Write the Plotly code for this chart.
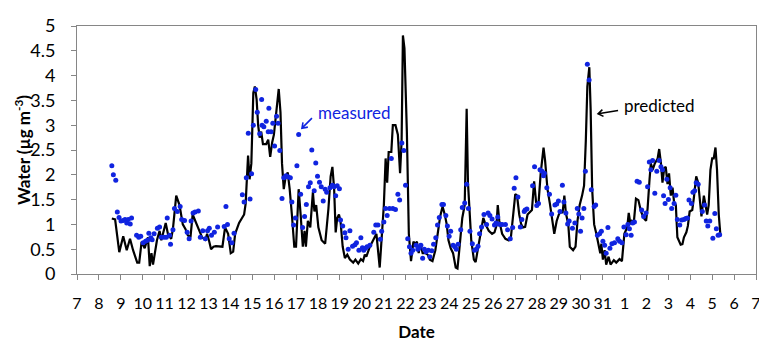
import plotly.graph_objects as go

# x positions are days counted from the first tick ("7"); tick labels below
tick_labels = [str(d) for d in range(7, 32)] + [str(d) for d in range(1, 8)]

pred_day = [1.59,1.74,1.93,2.11,2.27,2.42,2.56,2.75,2.84,2.95,3.09,3.24,3.32,3.40,3.47,3.65,3.77,3.85,4.05,4.15,
            4.30,4.38,4.53,4.68,4.83,4.95,5.06,5.18,5.28,5.44,5.59,5.71,5.86,5.94,6.04,6.12,6.23,6.34,6.64,6.76,
            6.90,7.02,7.13,7.22,7.40,7.63,7.70,7.81,7.88,7.96,8.05,8.12,8.20,8.27,8.34,8.41,8.49,8.64,8.73,8.82,
            8.91,8.99,9.06,9.12,9.21,9.29,9.36,9.44,9.52,9.62,9.71,9.81,9.92,10.00,10.12,10.21,10.31,10.39,10.45,10.54,
            10.65,10.77,10.84,10.92,11.02,11.17,11.33,11.48,11.58,11.66,11.74,11.81,11.88,11.96,12.03,12.13,12.23,12.34,12.46,12.61,
            12.71,12.84,12.96,13.06,13.14,13.21,13.37,13.52,13.67,13.82,13.94,14.01,14.09,14.16,14.23,14.35,14.42,14.54,14.65,14.75,
            14.82,14.88,14.95,15.06,15.15,15.25,15.36,15.45,15.52,15.60,15.68,15.78,15.90,16.01,16.11,16.23,16.36,16.46,16.58,16.69,
            16.79,16.88,16.96,17.06,17.17,17.29,17.37,17.44,17.52,17.59,17.70,17.79,17.85,17.92,18.00,18.12,18.20,18.27,18.38,18.47,
            18.55,18.65,18.80,18.95,19.06,19.15,19.21,19.28,19.41,19.56,19.71,19.81,19.90,20.01,20.09,20.19,20.28,20.36,20.46,20.57,
            20.77,20.87,20.96,21.07,21.17,21.30,21.37,21.48,21.59,21.72,21.79,21.90,22.00,22.09,22.17,22.25,22.32,22.43,22.50,22.65,
            22.76,22.85,22.95,23.06,23.15,23.23,23.30,23.39,23.45,23.52,23.61,23.71,23.82,23.89,23.94,24.01,24.09,24.16,24.27,24.36,
            24.51,24.62,24.77,24.88,24.99,25.12,25.19,25.27,25.34,25.42,25.52,25.63,25.75,25.87,25.98,26.05,26.14,26.20,26.28,26.38,
            26.51,26.58,26.66,26.73,26.81,26.88,26.96,27.03,27.11,27.19,27.26,27.34,27.41,27.49,27.56,27.64,27.71,27.82,27.89,27.97,
            28.09,28.16,28.27,28.36,28.44,28.51,28.62,28.70,28.77,28.84,28.92,29.00,29.07,29.15,29.22,29.30,29.37]

pred_val = [1.12,1.10,0.44,0.76,0.48,0.71,0.48,0.23,0.23,0.65,0.52,0.74,0.16,0.42,0.19,0.68,0.87,0.68,1.03,0.81,
            0.71,0.91,1.58,1.39,1.00,0.91,0.78,0.74,1.20,1.03,0.87,0.74,0.69,0.81,0.65,0.50,0.55,0.56,0.55,0.94,
            0.81,0.42,0.45,0.81,1.03,1.20,1.42,2.39,1.91,2.23,3.65,3.78,3.52,3.00,2.75,2.87,2.62,2.62,2.71,2.36,
            2.65,2.81,3.10,3.39,3.73,3.26,2.23,1.71,1.94,2.05,1.71,1.20,0.55,0.55,1.71,1.20,0.55,0.87,0.55,1.07,
            0.94,1.65,1.26,1.39,0.94,0.68,0.61,1.32,1.97,2.16,1.71,0.84,1.13,1.20,1.07,0.55,0.32,0.39,0.29,0.23,
            0.29,0.21,0.30,0.26,0.39,0.35,0.55,0.68,0.81,0.13,0.81,1.39,2.33,1.84,2.46,2.46,3.00,3.00,2.81,2.03,
            2.68,4.81,4.55,2.87,0.81,0.26,0.65,0.61,0.65,0.42,0.61,0.42,0.42,0.39,0.29,0.26,0.48,0.81,1.16,1.36,
            1.20,1.00,0.68,0.52,0.42,0.13,0.11,0.42,0.81,1.13,1.39,3.33,1.84,1.20,0.68,0.29,0.24,0.42,0.68,0.87,
            1.13,1.00,0.87,0.81,0.84,0.97,1.39,1.07,0.81,0.71,0.68,0.74,1.13,1.61,1.58,1.20,1.00,0.94,0.95,1.20,
            1.29,1.87,1.45,1.42,2.03,2.55,2.29,1.71,1.42,1.07,0.81,1.07,1.20,1.26,1.23,1.58,1.23,1.00,0.55,0.48,
            0.55,1.07,1.39,1.58,1.78,2.68,3.78,4.17,3.33,1.71,1.00,0.81,0.61,0.42,0.61,0.29,0.48,0.19,0.35,0.19,
            0.28,0.23,0.30,0.26,0.81,0.94,1.23,1.00,1.07,1.03,1.52,1.49,1.26,1.13,1.07,1.32,1.91,2.23,2.10,2.23,
            2.33,2.52,2.23,1.84,2.13,2.16,1.81,2.03,1.58,1.74,1.45,1.39,0.74,0.65,0.59,0.60,0.74,0.84,0.97,1.26,
            1.29,1.52,1.97,1.84,1.45,1.16,1.58,1.39,1.20,1.39,2.10,2.33,2.33,2.55,2.10,1.20,0.81]

meas_day = [1.59,1.66,1.77,1.84,1.92,2.01,2.11,2.19,2.27,2.34,2.43,2.49,2.72,2.82,2.91,3.02,3.13,3.22,3.28,3.37,
            3.43,3.52,3.67,3.77,3.85,3.97,4.08,4.12,4.23,4.27,4.38,4.45,4.58,4.71,4.78,4.91,5.03,5.12,5.21,5.30,
            5.39,5.54,5.63,5.74,5.86,5.96,6.04,6.14,6.27,6.42,6.72,6.80,6.87,6.95,7.07,7.17,7.55,7.63,7.73,7.82,
            7.90,7.97,8.05,8.16,8.23,8.34,8.43,8.45,8.53,8.64,8.73,8.76,8.86,8.94,9.02,9.11,9.18,9.26,9.36,9.44,
            9.54,9.63,9.74,9.81,9.89,9.97,10.04,10.12,10.21,10.30,10.39,10.47,10.57,10.65,10.72,10.83,10.90,10.98,11.07,11.15,
            11.24,11.33,11.40,11.55,11.66,11.74,11.81,11.88,11.98,12.03,12.13,12.23,12.28,12.38,12.46,12.58,12.69,12.76,12.87,12.96,
            13.03,13.09,13.17,13.24,13.37,13.55,13.64,13.74,13.85,13.91,14.01,14.09,14.16,14.27,14.35,14.42,14.54,14.65,14.73,14.83,
            14.92,15.00,15.10,15.18,15.25,15.33,15.48,15.56,15.63,15.70,15.78,15.86,15.93,16.04,16.11,16.20,16.28,16.38,16.46,16.54,
            16.66,16.73,16.84,16.91,16.99,17.06,17.17,17.25,17.32,17.40,17.52,17.59,17.70,17.79,17.87,17.94,18.05,18.15,18.23,18.31,
            18.38,18.47,18.58,18.70,18.77,18.85,18.95,19.06,19.13,19.21,19.26,19.33,19.41,19.56,19.66,19.78,19.89,19.96,20.04,20.13,
            20.24,20.31,20.42,20.46,20.54,20.80,20.89,20.99,21.07,21.14,21.23,21.30,21.34,21.45,21.57,21.67,21.82,21.90,21.98,22.05,
            22.16,22.23,22.32,22.40,22.47,22.62,22.73,22.84,22.91,22.99,23.06,23.14,23.21,23.30,23.38,23.48,23.61,23.68,23.76,23.86,
            23.94,24.01,24.09,24.16,24.24,24.33,24.42,24.54,24.69,24.77,24.88,24.97,25.07,25.15,25.22,25.30,25.37,25.45,25.57,25.67,
            25.78,25.87,25.98,26.05,26.13,26.20,26.28,26.38,26.47,26.58,26.66,26.73,26.78,26.85,26.93,27.00,27.08,27.15,27.26,27.34,
            27.41,27.52,27.61,27.71,27.79,27.87,27.94,28.05,28.12,28.20,28.27,28.36,28.55,28.65,28.73,28.80,28.89,29.03,29.12,29.19,
            29.27,29.34]

meas_val = [2.18,2.00,1.89,1.25,1.14,1.07,1.08,1.10,1.03,1.10,1.01,1.13,0.78,0.74,0.76,0.63,0.66,0.68,0.82,0.73,
            0.69,0.81,0.92,0.95,0.74,0.74,0.74,1.13,0.78,0.60,0.89,1.32,1.26,1.36,1.10,1.08,0.84,0.71,1.07,1.23,
            1.25,1.27,0.74,0.87,0.71,0.87,0.92,0.78,0.84,0.95,0.96,1.36,1.00,0.71,0.63,0.82,1.60,1.45,1.94,2.84,
            1.51,2.02,3.00,3.72,3.26,2.83,3.52,3.00,2.97,3.08,2.87,3.34,2.87,3.04,2.58,3.18,3.04,2.49,1.52,1.94,
            1.98,1.96,1.94,1.45,0.99,1.13,2.18,2.81,1.61,0.94,1.16,1.40,1.76,1.84,2.50,1.68,2.24,1.97,1.85,1.76,
            1.47,1.71,1.65,1.74,1.79,1.76,1.58,1.78,1.72,1.09,0.97,0.83,0.73,0.50,0.87,0.56,0.59,0.63,0.48,0.73,
            0.53,0.48,0.52,0.55,0.58,0.84,0.99,0.99,0.70,0.86,1.05,1.32,1.18,1.32,2.33,1.32,1.30,1.61,1.49,2.64,
            2.49,1.79,0.71,0.55,0.42,0.48,0.58,0.50,0.53,0.58,0.32,0.50,0.45,0.48,0.35,0.47,0.60,0.73,0.99,1.14,
            1.40,1.40,1.18,0.97,0.76,0.86,0.58,0.55,0.50,0.60,0.89,1.34,1.43,1.81,1.32,0.86,0.61,0.48,0.50,0.56,
            0.81,0.95,1.20,1.00,1.23,1.18,1.11,0.99,1.03,1.15,1.01,1.00,1.00,1.00,0.89,0.71,0.94,1.73,1.94,1.55,
            0.95,1.10,1.26,1.29,1.31,1.78,2.16,1.38,1.42,2.10,2.07,1.98,2.03,1.74,1.61,1.21,1.39,1.41,1.47,1.26,
            1.79,1.45,1.23,1.01,1.07,0.92,1.03,1.32,1.21,0.86,1.13,1.32,2.07,4.23,3.91,1.70,1.36,1.39,0.78,0.81,
            0.86,0.66,0.58,0.42,0.94,0.52,0.61,0.63,0.71,0.66,0.63,0.95,0.79,1.00,0.91,0.78,1.03,1.05,1.87,1.85,
            1.29,1.16,1.23,1.76,2.26,2.10,2.29,1.63,2.07,2.29,2.16,2.10,1.58,1.42,1.91,1.50,1.74,1.32,1.42,1.59,
            1.10,0.99,1.09,1.10,1.12,1.13,1.49,1.42,1.65,1.68,1.84,1.81,1.26,1.39,1.07,0.97,1.07,0.72,1.22,0.91,
            0.78,0.79]

if len(pred_day) != len(pred_val) or len(meas_day) != len(meas_val):
    raise SystemExit(f"length mismatch {len(pred_day)} {len(pred_val)} {len(meas_day)} {len(meas_val)}")

FONT = "Lato, 'Open Sans', sans-serif"
AXIS_GREY = "#868686"
BLUE = "#1024e0"

fig = go.Figure()
fig.add_trace(go.Scatter(x=pred_day, y=pred_val, mode="lines", name="predicted",
                         line=dict(color="black", width=2.2), showlegend=False))
fig.add_trace(go.Scatter(x=meas_day, y=meas_val, mode="markers", name="measured",
                         marker=dict(color=BLUE, size=5), showlegend=False))

# text labels
fig.add_annotation(x=12.69, y=3.26, xref="x", yref="y", text="measured", showarrow=False,
                   font=dict(family=FONT, size=17, color=BLUE))
fig.add_annotation(x=26.60, y=3.39, xref="x", yref="y", text="predicted", showarrow=False,
                   font=dict(family=FONT, size=17, color="black"))

# open arrows drawn as pixel-sized path shapes anchored at their tips
fig.add_shape(type="path", xref="x", yref="y", xsizemode="pixel", ysizemode="pixel",
              xanchor=10.27, yanchor=2.94,
              path="M10,10 L0,0 M1.04,5.9 L0,0 L5.9,1.04",
              line=dict(color=BLUE, width=1.6))
fig.add_shape(type="path", xref="x", yref="y", xsizemode="pixel", ysizemode="pixel",
              xanchor=23.79, yanchor=3.23,
              path="M20,3.3 L0,0 M4.29,4.2 L0,0 L5.41,-2.59",
              line=dict(color="black", width=1.6))

# y-axis title placed as a rotated annotation
fig.add_annotation(x=0, y=0.5, xref="paper", yref="paper", xanchor="center", yanchor="middle",
                   xshift=-55, textangle=-90, showarrow=False,
                   text="<b>Water (µg m<sup>-3</sup>)</b>", font=dict(family=FONT, size=17, color="black"))

# the page body has an 8px margin, so the figure is sized to fit inside the window
fig.update_layout(
    width=759, height=336,
    margin=dict(l=69, r=6, t=9, b=69),
    paper_bgcolor="white", plot_bgcolor="white",
    font=dict(family=FONT, size=16, color="black"),
)
fig.update_xaxes(
    range=[0, 31], tickmode="array", tickvals=list(range(32)), ticktext=tick_labels,
    ticks="outside", ticklen=5, tickcolor=AXIS_GREY, showline=True, linecolor=AXIS_GREY,
    linewidth=1, mirror=True, showgrid=False, zeroline=False, ticklabelstandoff=10,
    ticklabeloverflow="allow",
    tickfont=dict(family=FONT, size=16),
    title=dict(text="<b>Date</b>", font=dict(family=FONT, size=17), standoff=14),
)
fig.update_yaxes(
    range=[0, 5], tickmode="linear", tick0=0, dtick=0.5,
    ticks="outside", ticklen=5, tickcolor=AXIS_GREY, showline=True, linecolor=AXIS_GREY,
    linewidth=1, mirror=True, showgrid=False, zeroline=False, ticklabelstandoff=12,
    ticklabeloverflow="allow",
    tickfont=dict(family=FONT, size=18),
)

fig.write_html("out.html")
